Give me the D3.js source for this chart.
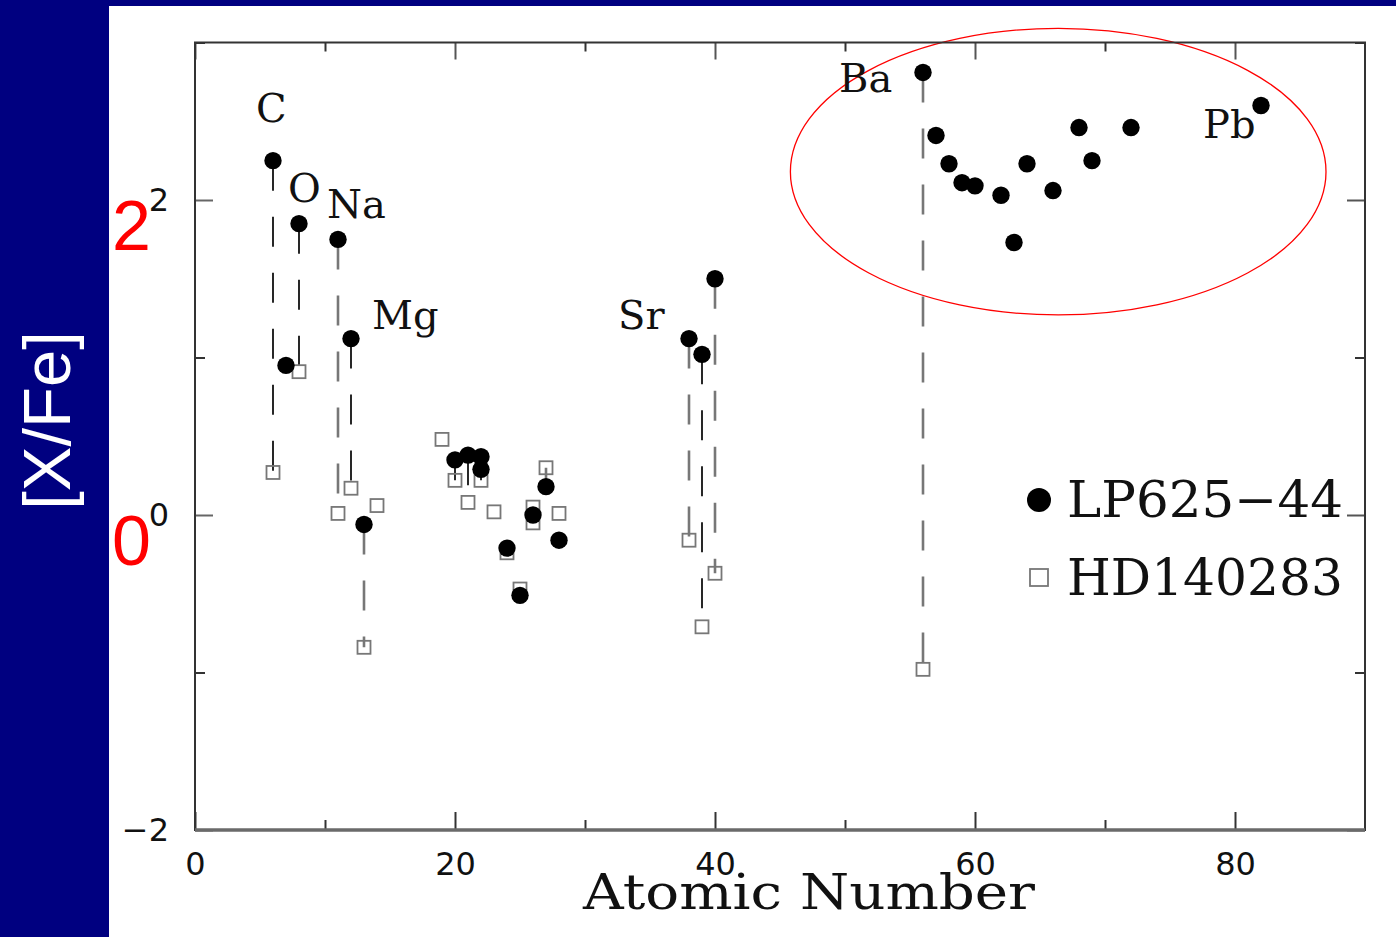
<!DOCTYPE html>
<html>
<head>
<meta charset="utf-8">
<script src="https://cdn.jsdelivr.net/npm/d3@7"></script>
<style>
  html, body { margin: 0; padding: 0; background: #000080; }
  svg { display: block; }
</style>
</head>
<body>
<svg id="chart" width="1396" height="937"></svg>
<script>
// ---------------- DATA ----------------
// LP625-44 (filled circles): atomic number and [X/Fe]
const lpZ   = [6, 7, 8, 11, 12, 13, 20, 21, 22, 22, 24, 25, 26, 27, 28, 38, 39, 40, 56, 57, 58, 59, 60, 62, 63, 64, 66, 68, 69, 72, 82];
const lpVal = [2.25, 0.95, 1.85, 1.75, 1.12, -0.06, 0.35, 0.38, 0.37, 0.29, -0.21, -0.51, 0.00, 0.18, -0.16, 1.12, 1.02, 1.50, 2.81, 2.41, 2.23, 2.11, 2.09, 2.03, 1.73, 2.23, 2.06, 2.46, 2.25, 2.46, 2.60];

// HD140283 (open squares)
const hdZ   = [6, 8, 11, 12, 13, 14, 19, 20, 21, 22, 23, 24, 25, 26, 26, 27, 28, 38, 39, 40, 56];
const hdVal = [0.27, 0.91, 0.01, 0.17, -0.84, 0.06, 0.48, 0.22, 0.08, 0.22, 0.02, -0.24, -0.47, 0.05, -0.05, 0.30, 0.01, -0.16, -0.71, -0.37, -0.98];

// elements joined by a dashed line (LP625-44 value -> HD140283 value)
const linkZ = [6, 8, 11, 12, 13, 20, 21, 22, 27, 38, 39, 40, 56];

// element labels and their anchors in data units (left edge Z, baseline [X/Fe])
const labelNames = ["C", "O", "Na", "Mg", "Sr", "Ba", "Pb"];
const labelZ     = [4.7, 7.15, 10.15, 13.62, 32.54, 49.54, 77.54];
const labelV     = [2.495, 1.99, 1.886, 1.181, 1.181, 2.686, 2.394];

// axes
const xDomain = [0, 90];
const yDomain = [-2, 3];
const xMajor = [0, 20, 40, 60, 80];
const xMinor = [10, 30, 50, 70];
const yMajor = [-2, 0, 2];
const yMinor = [-1, 1, 3];

const seriesNames = ["LP625\u221244", "HD140283"];
const xTitle = "Atomic Number";
const yTitle = "[X/Fe]";
const redMarks = ["2", "0"];
const redMarkVals = [2, 0];

// highlighted region (ellipse) in data units
const ellipseCenter = [66.4, 2.18];
const ellipseRadius = [20.6, 0.91];

// ---------------- STYLE ----------------
const linkInk = {6: "#111", 8: "#111", 11: "#777", 12: "#111", 13: "#777", 20: "#111", 21: "#111", 22: "#111", 27: "#777", 38: "#777", 39: "#111", 40: "#777", 56: "#777"};
const tickFont = "DejaVu Sans, Liberation Sans, sans-serif";

// ---------------- DRAW ----------------
const svg = d3.select("#chart");
const W = 1396, H = 937;

svg.append("rect").attr("x", 0).attr("y", 0).attr("width", W).attr("height", H).attr("fill", "#000080");
svg.append("rect").attr("x", 109).attr("y", 6).attr("width", W - 109).attr("height", H - 6).attr("fill", "#ffffff");

const x = d3.scaleLinear().domain(xDomain).range([195, 1365]);
const y = d3.scaleLinear().domain(yDomain).range([830, 42.5]);

const g = svg.append("g");

// ellipse highlight
g.append("ellipse")
  .attr("cx", x(ellipseCenter[0])).attr("cy", y(ellipseCenter[1]))
  .attr("rx", x(ellipseRadius[0]) - x(0)).attr("ry", y(0) - y(ellipseRadius[1]))
  .attr("fill", "none").attr("stroke", "#ff0000").attr("stroke-width", 1.3);

// axes (ticks inward)
function styleAxis(sel, col) {
  sel.select(".domain").remove();
  sel.selectAll(".tick line").attr("stroke", col || "#333").attr("stroke-width", 2);
  sel.selectAll("text").attr("font-family", tickFont)
     .attr("font-size", 32).attr("fill", "#111");
}
const fmt = d3.format("d");

g.append("g").attr("transform", `translate(0,${y(-2)})`)
  .call(d3.axisBottom(x).tickValues(xMajor).tickSize(-18).tickPadding(22).tickFormat(fmt))
  .call(s => styleAxis(s));
g.append("g").attr("transform", `translate(0,${y(-2)})`)
  .call(d3.axisBottom(x).tickValues(xMinor).tickSize(-10).tickFormat(""))
  .call(s => styleAxis(s));
g.append("g").attr("transform", `translate(0,${y(3)})`)
  .call(d3.axisTop(x).tickValues(xMajor).tickSize(-17).tickFormat(""))
  .call(s => styleAxis(s, "#555"));
g.append("g").attr("transform", `translate(0,${y(3)})`)
  .call(d3.axisTop(x).tickValues(xMinor).tickSize(-9).tickFormat(""))
  .call(s => styleAxis(s));

g.append("g").attr("transform", `translate(${x(0)},0)`)
  .call(d3.axisLeft(y).tickValues(yMajor).tickSize(-18).tickPadding(26).tickFormat(fmt))
  .call(s => styleAxis(s, "#666"));
g.append("g").attr("transform", `translate(${x(0)},0)`)
  .call(d3.axisLeft(y).tickValues(yMinor).tickSize(-10).tickFormat(""))
  .call(s => styleAxis(s));
g.append("g").attr("transform", `translate(${x(90)},0)`)
  .call(d3.axisRight(y).tickValues(yMajor).tickSize(-18).tickFormat(""))
  .call(s => styleAxis(s, "#555"));
g.append("g").attr("transform", `translate(${x(90)},0)`)
  .call(d3.axisRight(y).tickValues(yMinor).tickSize(-10).tickFormat(""))
  .call(s => styleAxis(s));

// frame
g.append("rect")
  .attr("x", x(0)).attr("y", y(3))
  .attr("width", x(90) - x(0)).attr("height", y(-2) - y(3))
  .attr("fill", "none").attr("stroke", "#333").attr("stroke-width", 2);
g.append("line")
  .attr("x1", x(0)).attr("x2", x(90)).attr("y1", y(-2)).attr("y2", y(-2))
  .attr("stroke", "#6a6a6a").attr("stroke-width", 3.5);

// connectors
const lpMap = new Map(); lpZ.forEach((z, i) => { if (!lpMap.has(z)) lpMap.set(z, lpVal[i]); });
const hdMap = new Map(); hdZ.forEach((z, i) => { if (!hdMap.has(z)) hdMap.set(z, hdVal[i]); });
g.append("g").selectAll("line").data(linkZ).join("line")
  .attr("x1", d => x(d)).attr("x2", d => x(d))
  .attr("y1", d => y(lpMap.get(d))).attr("y2", d => y(hdMap.get(d)))
  .attr("stroke", d => linkInk[d])
  .attr("stroke-width", d => linkInk[d] === "#111" ? 1.8 : 2.6)
  .attr("stroke-dasharray", "30,26");

// HD140283 squares
const sq = 13;
g.append("g").selectAll("rect").data(hdZ.map((z, i) => [z, hdVal[i]])).join("rect")
  .attr("x", d => x(d[0]) - sq / 2).attr("y", d => y(d[1]) - sq / 2)
  .attr("width", sq).attr("height", sq)
  .attr("fill", "none").attr("stroke", "#777").attr("stroke-width", 1.8);

// LP625-44 circles
g.append("g").selectAll("circle").data(lpZ.map((z, i) => [z, lpVal[i]])).join("circle")
  .attr("cx", d => x(d[0])).attr("cy", d => y(d[1])).attr("r", 8.7)
  .attr("fill", "#000");

// element labels
g.append("g").selectAll("text").data(labelNames).join("text")
  .attr("x", (d, i) => x(labelZ[i])).attr("y", (d, i) => y(labelV[i]))
  .attr("font-family", "DejaVu Serif, serif").attr("font-size", 40)
  .attr("fill", "#111").text(d => d);

// legend
const leg = g.append("g");
leg.append("circle").attr("cx", 1039).attr("cy", 500).attr("r", 12).attr("fill", "#000");
leg.append("text").attr("x", 1067).attr("y", 517)
  .attr("font-family", "DejaVu Serif, serif").attr("font-size", 50)
  .attr("textLength", 276).attr("lengthAdjust", "spacingAndGlyphs")
  .attr("fill", "#111").text(seriesNames[0]);
leg.append("rect").attr("x", 1030).attr("y", 569).attr("width", 18).attr("height", 17)
  .attr("fill", "none").attr("stroke", "#777").attr("stroke-width", 1.8);
leg.append("text").attr("x", 1067).attr("y", 595)
  .attr("font-family", "DejaVu Serif, serif").attr("font-size", 50)
  .attr("textLength", 276).attr("lengthAdjust", "spacingAndGlyphs")
  .attr("fill", "#111").text(seriesNames[1]);

// x title
g.append("text").attr("x", 583).attr("y", 909)
  .attr("font-family", "DejaVu Serif, serif").attr("font-size", 48)
  .attr("textLength", 452).attr("lengthAdjust", "spacingAndGlyphs")
  .attr("fill", "#111").text(xTitle);

// y title (white on navy)
svg.append("text").attr("transform", `translate(70,${y(0.6)}) rotate(-90)`)
  .attr("text-anchor", "middle")
  .attr("font-family", "Liberation Sans, Arial, sans-serif").attr("font-size", 67)
  .attr("fill", "#ffffff").text(yTitle);

// big red numbers
svg.append("g").selectAll("text").data(redMarks).join("text")
  .attr("x", 112).attr("y", (d, i) => y(redMarkVals[i]) + 50)
  .attr("font-family", "Liberation Sans, Arial, sans-serif").attr("font-size", 70)
  .attr("fill", "#ff0000").text(d => d);
</script>
</body>
</html>
